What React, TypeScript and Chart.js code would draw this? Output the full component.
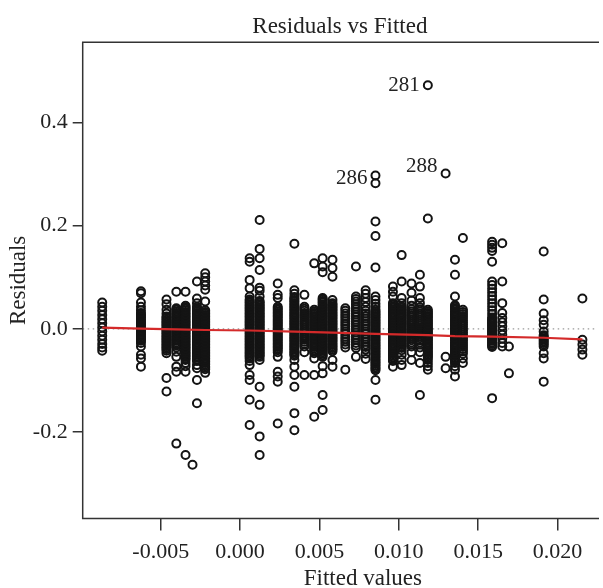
import React, { useEffect, useRef } from 'react';
import { Chart, registerables } from 'chart.js';

Chart.register(...registerables);

const FONT = '"Liberation Serif", "Times New Roman", serif';

const titleText = 'Residuals vs Fitted';
const xTitle = 'Fitted values';
const yTitle = 'Residuals';

const xTicks = [-0.005, 0.0, 0.005, 0.01, 0.015, 0.02];
const yTicks = [-0.2, 0.0, 0.2, 0.4];

// fitted value of each vertical column of points
const fitted = [
  -0.00869, -0.00625, -0.00464, -0.00402, -0.00344, -0.003, -0.00272, -0.0022,
  0.0006, 0.00123, 0.00237, 0.00342, 0.00405, 0.00467, 0.0052, 0.00582, 0.00663,
  0.0073, 0.00791, 0.00853, 0.00963, 0.01018, 0.0108, 0.01133, 0.01183, 0.01295,
  0.01354, 0.01404, 0.01588, 0.01652, 0.01694, 0.01913, 0.02157,
];

// residuals of each column
const colA = [0.051, 0.043, 0.035, 0.027, 0.019, 0.011, 0.003, -0.005, -0.013, -0.021, -0.029, -0.036, -0.042];
const colB = [0.073, 0.069, 0.051, 0.043, 0.036, 0.031, 0.028, 0.025, 0.022, 0.019, 0.016, 0.013, 0.01, 0.007, 0.004, 0.001, -0.002, -0.005, -0.008, -0.011, -0.014, -0.017, -0.02, -0.023, -0.027, -0.034, -0.05, -0.057, -0.073];
const colC = [0.057, 0.048, 0.037, 0.03, 0.024, 0.021, 0.018, 0.015, 0.012, 0.009, 0.006, 0.003, 0.0, -0.003, -0.006, -0.009, -0.012, -0.015, -0.018, -0.021, -0.024, -0.027, -0.03, -0.033, -0.036, -0.039, -0.042, -0.047, -0.095, -0.121];
const colD = [0.072, 0.04, 0.037, 0.034, 0.031, 0.028, 0.025, 0.022, 0.019, 0.016, 0.013, 0.01, 0.007, 0.004, 0.001, -0.002, -0.005, -0.008, -0.011, -0.014, -0.017, -0.02, -0.023, -0.026, -0.029, -0.032, -0.036, -0.044, -0.054, -0.073, -0.083, -0.222];
const colE = [0.072, 0.045, 0.042, 0.039, 0.036, 0.033, 0.03, 0.027, 0.024, 0.021, 0.018, 0.015, 0.012, 0.009, 0.006, 0.003, 0.0, -0.003, -0.006, -0.009, -0.012, -0.015, -0.018, -0.021, -0.024, -0.027, -0.03, -0.033, -0.036, -0.039, -0.042, -0.045, -0.048, -0.051, -0.054, -0.057, -0.06, -0.066, -0.072, -0.083, -0.244];
const colE2 = [-0.263];
const colF = [0.092, 0.059, 0.05, 0.043, 0.04, 0.037, 0.034, 0.031, 0.028, 0.025, 0.022, 0.019, 0.016, 0.013, 0.01, 0.007, 0.004, 0.001, -0.002, -0.005, -0.008, -0.011, -0.014, -0.017, -0.02, -0.023, -0.026, -0.029, -0.032, -0.035, -0.038, -0.041, -0.044, -0.047, -0.05, -0.053, -0.056, -0.059, -0.062, -0.07, -0.076, -0.099, -0.144];
const colG = [0.108, 0.1, 0.092, 0.084, 0.076, 0.053, 0.036, 0.033, 0.03, 0.027, 0.024, 0.021, 0.018, 0.015, 0.012, 0.009, 0.006, 0.003, 0.0, -0.003, -0.006, -0.009, -0.012, -0.015, -0.018, -0.021, -0.024, -0.027, -0.03, -0.033, -0.036, -0.039, -0.042, -0.045, -0.048, -0.051, -0.054, -0.057, -0.06, -0.063, -0.066, -0.069, -0.072, -0.075, -0.078, -0.085];
const colH = [0.137, 0.13, 0.095, 0.079, 0.063, 0.057, 0.054, 0.051, 0.048, 0.045, 0.042, 0.039, 0.036, 0.033, 0.03, 0.027, 0.024, 0.021, 0.018, 0.015, 0.012, 0.009, 0.006, 0.003, 0.0, -0.003, -0.006, -0.009, -0.012, -0.015, -0.018, -0.021, -0.024, -0.027, -0.03, -0.033, -0.036, -0.039, -0.042, -0.045, -0.048, -0.051, -0.054, -0.057, -0.062, -0.07, -0.089, -0.099, -0.137, -0.186];
const colI = [0.211, 0.155, 0.137, 0.114, 0.08, 0.074, 0.063, 0.054, 0.051, 0.048, 0.045, 0.042, 0.039, 0.036, 0.033, 0.03, 0.027, 0.024, 0.021, 0.018, 0.015, 0.012, 0.009, 0.006, 0.003, 0.0, -0.003, -0.006, -0.009, -0.012, -0.015, -0.018, -0.021, -0.024, -0.027, -0.03, -0.033, -0.036, -0.039, -0.042, -0.045, -0.048, -0.051, -0.054, -0.06, -0.112, -0.147, -0.208, -0.244];
const colJ = [0.088, 0.066, 0.06, 0.043, 0.04, 0.037, 0.034, 0.031, 0.028, 0.025, 0.022, 0.019, 0.016, 0.013, 0.01, 0.007, 0.004, 0.001, -0.002, -0.005, -0.008, -0.011, -0.014, -0.017, -0.02, -0.023, -0.026, -0.029, -0.032, -0.035, -0.038, -0.041, -0.045, -0.054, -0.083, -0.092, -0.102, -0.183];
const colK = [0.165, 0.075, 0.068, 0.062, 0.059, 0.056, 0.053, 0.05, 0.047, 0.044, 0.041, 0.038, 0.035, 0.032, 0.029, 0.026, 0.023, 0.02, 0.017, 0.014, 0.011, 0.008, 0.005, 0.002, -0.001, -0.004, -0.007, -0.01, -0.013, -0.016, -0.019, -0.022, -0.025, -0.028, -0.031, -0.034, -0.037, -0.04, -0.043, -0.046, -0.049, -0.052, -0.06, -0.073, -0.089, -0.112, -0.163, -0.196];
const colL = [0.066, 0.043, 0.039, 0.035, 0.031, 0.027, 0.023, 0.019, 0.015, 0.011, 0.007, 0.003, -0.001, -0.005, -0.009, -0.013, -0.017, -0.021, -0.025, -0.029, -0.034, -0.045, -0.089];
const colM = [0.127, 0.037, 0.034, 0.031, 0.028, 0.025, 0.022, 0.019, 0.016, 0.013, 0.01, 0.007, 0.004, 0.001, -0.002, -0.005, -0.008, -0.011, -0.014, -0.017, -0.02, -0.023, -0.026, -0.029, -0.032, -0.035, -0.038, -0.041, -0.044, -0.047, -0.057, -0.089, -0.17];
const colN = [0.137, 0.121, 0.11, 0.06, 0.057, 0.054, 0.051, 0.048, 0.045, 0.042, 0.039, 0.036, 0.033, 0.03, 0.027, 0.024, 0.021, 0.018, 0.015, 0.012, 0.009, 0.006, 0.003, 0.0, -0.003, -0.006, -0.009, -0.012, -0.015, -0.018, -0.021, -0.024, -0.027, -0.03, -0.033, -0.036, -0.039, -0.042, -0.045, -0.048, -0.051, -0.054, -0.072, -0.086, -0.128, -0.157];
const colO = [0.134, 0.118, 0.101, 0.056, 0.05, 0.047, 0.044, 0.041, 0.038, 0.035, 0.032, 0.029, 0.026, 0.023, 0.02, 0.017, 0.014, 0.011, 0.008, 0.005, 0.002, -0.001, -0.004, -0.007, -0.01, -0.013, -0.016, -0.019, -0.022, -0.025, -0.028, -0.031, -0.034, -0.037, -0.04, -0.043, -0.06, -0.073];
const colP = [0.04, 0.035, 0.03, 0.025, 0.02, 0.015, 0.01, 0.005, 0.0, -0.005, -0.01, -0.015, -0.02, -0.025, -0.03, -0.036, -0.079];
const colQ = [0.121, 0.063, 0.058, 0.053, 0.048, 0.043, 0.038, 0.033, 0.028, 0.023, 0.018, 0.013, 0.008, 0.003, -0.002, -0.007, -0.012, -0.017, -0.022, -0.027, -0.032, -0.037, -0.054];
const colR = [0.075, 0.068, 0.06, 0.052, 0.043, 0.035, 0.03, 0.025, 0.02, 0.015, 0.01, 0.005, 0.0, -0.005, -0.01, -0.015, -0.02, -0.025, -0.03, -0.035, -0.04, -0.048, -0.058];
const colS = [0.297, 0.282, 0.208, 0.18, 0.119, 0.063, 0.056, 0.049, 0.043, 0.037, 0.034, 0.031, 0.028, 0.025, 0.022, 0.019, 0.016, 0.013, 0.01, 0.007, 0.004, 0.001, -0.002, -0.005, -0.008, -0.011, -0.014, -0.017, -0.02, -0.023, -0.026, -0.029, -0.032, -0.035, -0.038, -0.041, -0.044, -0.047, -0.05, -0.053, -0.056, -0.059, -0.062, -0.065, -0.068, -0.071, -0.074, -0.077, -0.08, -0.099, -0.137];
const colT = [0.082, 0.072, 0.063, 0.05, 0.047, 0.044, 0.041, 0.038, 0.035, 0.032, 0.029, 0.026, 0.023, 0.02, 0.017, 0.014, 0.011, 0.008, 0.005, 0.002, -0.001, -0.004, -0.007, -0.01, -0.013, -0.016, -0.019, -0.022, -0.025, -0.028, -0.031, -0.034, -0.037, -0.04, -0.043, -0.046, -0.049, -0.052, -0.055, -0.058, -0.062, -0.073];
const colU = [0.143, 0.092, 0.06, 0.05, 0.044, 0.041, 0.038, 0.035, 0.032, 0.029, 0.026, 0.023, 0.02, 0.017, 0.014, 0.011, 0.008, 0.005, 0.002, -0.001, -0.004, -0.007, -0.01, -0.013, -0.016, -0.019, -0.022, -0.025, -0.028, -0.031, -0.034, -0.037, -0.041, -0.05, -0.06, -0.07];
const colV = [0.088, 0.07, 0.055, 0.045, 0.038, 0.034, 0.03, 0.026, 0.022, 0.018, 0.014, 0.01, 0.006, 0.002, -0.002, -0.006, -0.01, -0.014, -0.018, -0.022, -0.026, -0.03, -0.034, -0.045, -0.06];
const colW = [0.105, 0.082, 0.06, 0.05, 0.042, 0.038, 0.034, 0.03, 0.026, 0.022, 0.018, 0.014, 0.01, 0.006, 0.002, -0.002, -0.006, -0.01, -0.014, -0.018, -0.022, -0.026, -0.03, -0.036, -0.045, -0.066, -0.128];
const colX = [0.472, 0.214, 0.037, 0.034, 0.031, 0.028, 0.025, 0.022, 0.019, 0.016, 0.013, 0.01, 0.007, 0.004, 0.001, -0.002, -0.005, -0.008, -0.011, -0.014, -0.017, -0.02, -0.023, -0.026, -0.029, -0.032, -0.035, -0.038, -0.041, -0.044, -0.047, -0.05, -0.053, -0.056, -0.06, -0.066, -0.072, -0.079];
const colY = [0.301, -0.054, -0.076];
const colZ = [0.134, 0.105, 0.063, 0.046, 0.043, 0.04, 0.037, 0.034, 0.031, 0.028, 0.025, 0.022, 0.019, 0.016, 0.013, 0.01, 0.007, 0.004, 0.001, -0.002, -0.005, -0.008, -0.011, -0.014, -0.017, -0.02, -0.023, -0.026, -0.029, -0.032, -0.035, -0.038, -0.041, -0.044, -0.047, -0.05, -0.053, -0.056, -0.059, -0.062, -0.066, -0.072, -0.079, -0.092];
const colAA = [0.176, 0.037, 0.033, 0.029, 0.025, 0.021, 0.017, 0.013, 0.009, 0.005, 0.001, -0.003, -0.007, -0.011, -0.015, -0.019, -0.023, -0.027, -0.031, -0.035, -0.039, -0.043, -0.048, -0.057, -0.066];
const colAB = [0.169, 0.163, 0.157, 0.151, 0.13, 0.092, 0.085, 0.078, 0.071, 0.064, 0.057, 0.05, 0.043, 0.036, 0.029, 0.022, 0.019, 0.016, 0.013, 0.01, 0.007, 0.004, 0.001, -0.002, -0.005, -0.008, -0.011, -0.014, -0.017, -0.02, -0.023, -0.026, -0.029, -0.032, -0.035, -0.134];
const colAC = [0.166, 0.092, 0.05, 0.031, 0.021, 0.013, 0.005, -0.003, -0.011, -0.019, -0.027, -0.034];
const colAD = [-0.034, -0.086];
const colAE = [0.15, 0.057, 0.03, 0.017, 0.008, -0.005, -0.012, -0.015, -0.018, -0.021, -0.024, -0.027, -0.03, -0.034, -0.047, -0.057, -0.102];
const colAF = [0.059, -0.021, -0.03, -0.04, -0.05];

const columns = [
  colA, colB, colC, colD, colE, colE2, colF, colG, colH, colI, colJ, colK, colL, colM, colN,
  colO, colP, colQ, colR, colS, colT, colU, colV, colW, colX, colY, colZ, colAA, colAB, colAC,
  colAD, colAE, colAF,
];

// smoother (red line)
const smoothFitted = [-0.00869, -0.00625, -0.00402, -0.0022, 0.0006, 0.00342, 0.00582, 0.00853, 0.01183, 0.01354, 0.01588, 0.01913, 0.02157];
const smoothResid = [0.0025, 0.0005, -0.001, -0.002, -0.003, -0.005, -0.007, -0.0095, -0.012, -0.014, -0.015, -0.017, -0.02];

// labelled observations
const labelIds = ['281', '286', '288'];
const labelFitted = [0.01183, 0.00853, 0.01295];
const labelResid = [0.472, 0.292, 0.314];

const X_MIN = -0.00992;
const X_MAX = 0.02249;
const Y_MIN = -0.367;
const Y_MAX = 0.555;

export default function App() {
  const ref = useRef<HTMLCanvasElement>(null);

  useEffect(() => {
    const canvas = ref.current;
    if (!canvas) return;

    const points = fitted.flatMap((fx, i) => columns[i].map((r) => ({ x: fx, y: r })));
    const smooth = smoothFitted.map((fx, i) => ({ x: fx, y: smoothResid[i] }));
    const zero = [
      { x: X_MIN, y: 0 },
      { x: X_MAX, y: 0 },
    ];

    const decor = {
      id: 'decor',
      afterDraw(chart: any) {
        const { ctx, chartArea, scales } = chart;
        ctx.save();
        ctx.strokeStyle = '#333';
        ctx.lineWidth = 1.5;
        ctx.beginPath();
        ctx.moveTo(chartArea.right + 2, chartArea.top);
        ctx.lineTo(chartArea.left, chartArea.top);
        ctx.lineTo(chartArea.left, chartArea.bottom);
        ctx.lineTo(chartArea.right + 2, chartArea.bottom);
        ctx.stroke();

        ctx.fillStyle = '#222';
        ctx.font = `21px ${FONT}`;
        ctx.textAlign = 'right';
        ctx.textBaseline = 'middle';
        labelIds.forEach((t, i) => {
          ctx.fillText(
            t,
            scales.x.getPixelForValue(labelFitted[i]) - 8,
            scales.y.getPixelForValue(labelResid[i])
          );
        });

        ctx.font = `23px ${FONT}`;
        ctx.textAlign = 'center';
        ctx.fillText(xTitle, (chartArea.left + chartArea.right) / 2 + 23, 579);
        ctx.restore();
      },
    };

    const chart = new Chart(canvas, {
      type: 'scatter',
      data: {
        datasets: [
          {
            data: smooth,
            showLine: true,
            borderColor: '#d42a2a',
            borderWidth: 2.2,
            pointRadius: 0,
            fill: false,
          },
          {
            data: points,
            showLine: false,
            pointStyle: 'circle',
            pointRadius: 4,
            pointBorderWidth: 2,
            borderColor: '#141414',
            backgroundColor: 'rgba(0,0,0,0)',
            pointBackgroundColor: 'rgba(0,0,0,0)',
            pointBorderColor: '#141414',
          },
          {
            data: zero,
            showLine: true,
            borderColor: '#9a9a9a',
            borderWidth: 1.2,
            borderDash: [1.5, 3.5],
            pointRadius: 0,
            fill: false,
          },
        ],
      },
      options: {
        animation: false,
        responsive: false,
        devicePixelRatio: 1,
        layout: { padding: 0 },
        plugins: {
          legend: { display: false },
          tooltip: { enabled: false },
          title: {
            display: true,
            text: titleText,
            fullSize: false,
            color: '#222',
            font: { family: FONT, size: 23, weight: 'normal' },
            padding: { top: 13, bottom: 1.7 },
          },
        },
        scales: {
          x: {
            type: 'linear',
            position: 'bottom',
            min: X_MIN,
            max: X_MAX,
            afterFit: (s: any) => {
              s.height = 69.5;
            },
            afterBuildTicks: (s: any) => {
              s.ticks = xTicks.map((v) => ({ value: v }));
            },
            grid: {
              drawOnChartArea: false,
              drawTicks: true,
              tickLength: 12,
              color: '#333',
              lineWidth: 1.5,
            },
            border: { display: false },
            ticks: {
              autoSkip: false,
              maxRotation: 0,
              padding: 9,
              color: '#222',
              font: { family: FONT, size: 22 },
              callback: (v: any) => Number(v).toFixed(3),
            },
          },
          y: {
            type: 'linear',
            position: 'left',
            min: Y_MIN,
            max: Y_MAX,
            afterFit: (s: any) => {
              s.width = 82.7;
            },
            afterBuildTicks: (s: any) => {
              s.ticks = yTicks.map((v) => ({ value: v }));
            },
            grid: {
              drawOnChartArea: false,
              drawTicks: true,
              tickLength: 10,
              color: '#333',
              lineWidth: 1.5,
            },
            border: { display: false },
            title: {
              display: true,
              text: yTitle,
              color: '#222',
              font: { family: FONT, size: 23 },
              padding: { top: 4.7, bottom: 0 },
            },
            ticks: {
              autoSkip: false,
              padding: 5,
              color: '#222',
              font: { family: FONT, size: 22 },
              callback: (v: any) => Number(v).toFixed(1),
            },
          },
        },
      },
      plugins: [decor],
    } as any);

    return () => chart.destroy();
  }, []);

  return (
    <div style={{ position: 'absolute', left: 0, top: 0, width: 603, height: 588, overflow: 'hidden', background: '#fff' }}>
      <canvas ref={ref} width={603} height={588} style={{ display: 'block' }} />
    </div>
  );
}
